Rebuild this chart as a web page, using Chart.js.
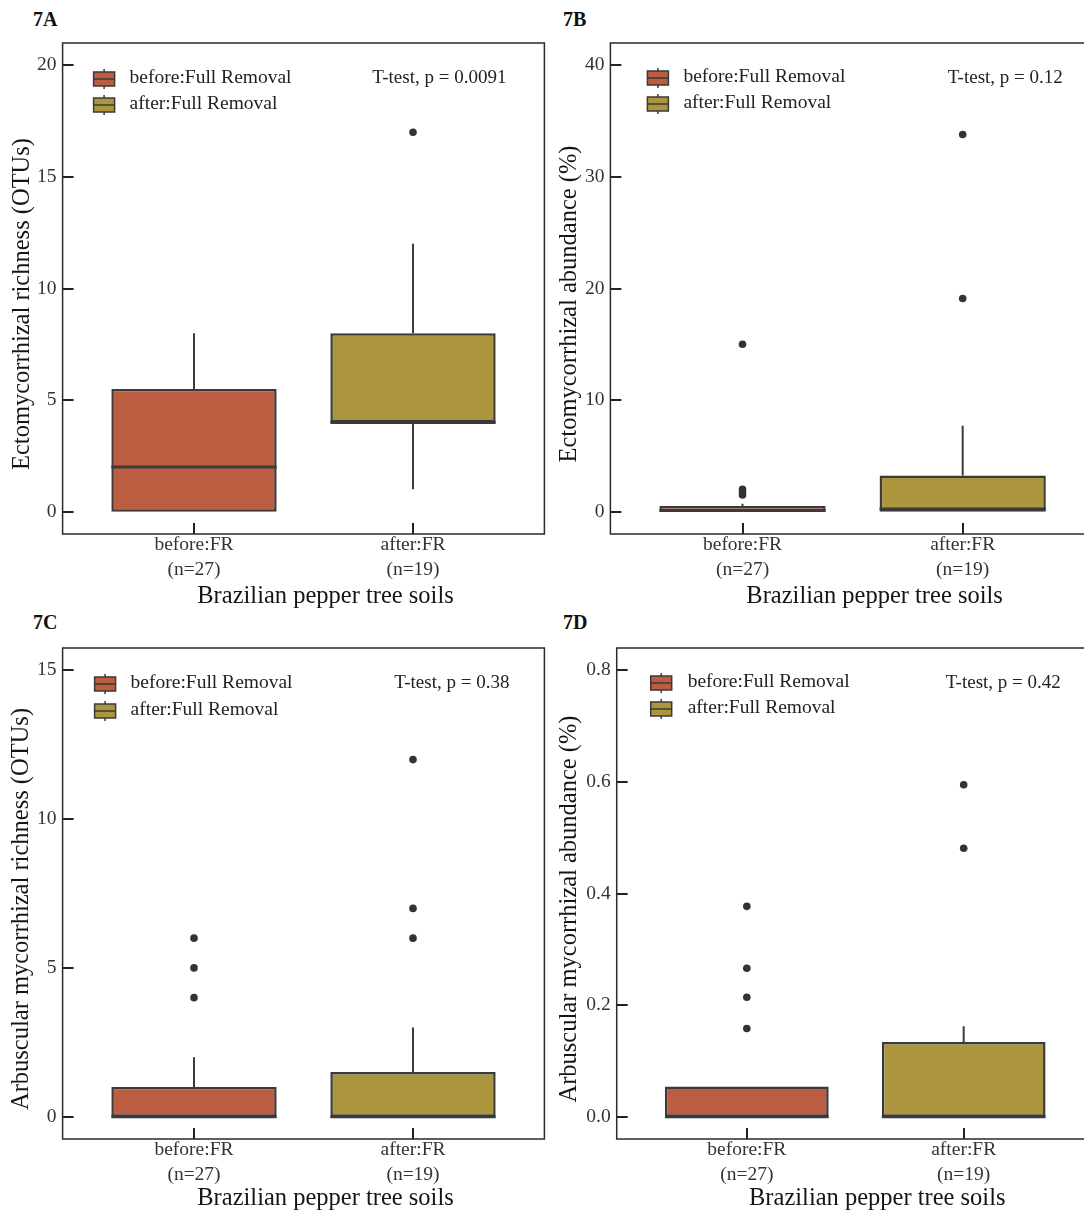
<!DOCTYPE html>
<html>
<head>
<meta charset="utf-8">
<script src="https://cdn.jsdelivr.net/npm/chart.js@4.4.1/dist/chart.umd.min.js"></script>
<style>
  html, body { margin: 0; padding: 0; background: #ffffff; overflow: hidden; width: 1084px; height: 1213px; }
  body { position: relative; }
  canvas { position: absolute; }
  .tag { position: absolute; font: bold 20px "Liberation Serif", "Times New Roman", serif; line-height: 20px; color: #111; }
</style>
</head>
<body>
<div class="tag" style="left:33px;top:9px">7A</div>
<div class="tag" style="left:563px;top:9px">7B</div>
<div class="tag" style="left:33px;top:612px">7C</div>
<div class="tag" style="left:563px;top:612px">7D</div>

<canvas id="cA" width="560" height="612" style="left:0px;top:0px"></canvas>
<canvas id="cB" width="560" height="612" style="left:545px;top:0px"></canvas>
<canvas id="cC" width="560" height="608" style="left:0px;top:605px"></canvas>
<canvas id="cD" width="560" height="608" style="left:545px;top:605px"></canvas>

<script>
// ---- groups shared by every panel ----
const groups = ['before:FR', 'after:FR'];
const groupSizes = ['(n=27)', '(n=19)'];
const legendLabels = ['before:Full Removal', 'after:Full Removal'];
const xTitle = 'Brazilian pepper tree soils';

// ---- 7A: ectomycorrhizal richness (OTUs) ----
const ectoRichLow = [0, 1];
const ectoRichQ1 = [0, 4];
const ectoRichMedian = [2, 4];
const ectoRichQ3 = [5.5, 8];
const ectoRichHigh = [8, 12];
const ectoRichOutliers = [[], [17]];
const ectoRichTicks = [0, 5, 10, 15, 20];
const ectoRichTickLabels = ['0', '5', '10', '15', '20'];

// ---- 7B: ectomycorrhizal abundance (%) ----
const ectoAbunLow = [0, 0];
const ectoAbunQ1 = [0, 0];
const ectoAbunMedian = [0.1, 0.25];
const ectoAbunQ3 = [0.5, 3.25];
const ectoAbunHigh = [0.7, 7.7];
const ectoAbunOutliers = [[1.5, 1.7, 2.0, 15.0], [19.1, 33.8]];
const ectoAbunTicks = [0, 10, 20, 30, 40];
const ectoAbunTickLabels = ['0', '10', '20', '30', '40'];

// ---- 7C: arbuscular mycorrhizal richness (OTUs) ----
const arbRichLow = [0, 0];
const arbRichQ1 = [0, 0];
const arbRichMedian = [0, 0];
const arbRichQ3 = [1, 1.5];
const arbRichHigh = [2, 3];
const arbRichOutliers = [[4, 5, 6], [6, 7, 12]];
const arbRichTicks = [0, 5, 10, 15];
const arbRichTickLabels = ['0', '5', '10', '15'];

// ---- 7D: arbuscular mycorrhizal abundance (%) ----
const arbAbunLow = [0, 0];
const arbAbunQ1 = [0, 0];
const arbAbunMedian = [0, 0];
const arbAbunQ3 = [0.054, 0.134];
const arbAbunHigh = [0.054, 0.162];
const arbAbunOutliers = [[0.158, 0.214, 0.266, 0.377], [0.481, 0.595]];
const arbAbunTicks = [0, 0.2, 0.4, 0.6, 0.8];
const arbAbunTickLabels = ['0.0', '0.2', '0.4', '0.6', '0.8'];

// ---- t-test results ----
const pValues = ['0.0091', '0.12', '0.38', '0.42'];

// ---- styling ----
const SERIF = '"Liberation Serif", "Times New Roman", Times, serif';
const FILLS = ['#bc5c41', '#ac963d'];
const EDGE = '#3a3a3a';
const BOX_WIDTH = 0.755;

// Frame, inward ticks, legend, test note and axis titles
const decor = {
  id: 'decor',
  afterDraw(chart, args, o) {
    const { ctx, chartArea: a, scales: { x, y } } = chart;
    ctx.save();

    // inward tick marks
    ctx.strokeStyle = '#222';
    ctx.lineWidth = 2;
    ctx.beginPath();
    y.ticks.forEach(t => {
      const py = Math.round(y.getPixelForValue(t.value)) + 0.0;
      ctx.moveTo(a.left, py); ctx.lineTo(a.left + 11, py);
    });
    x.ticks.forEach(t => {
      const px = Math.round(x.getPixelForValue(t.value));
      ctx.moveTo(px, a.bottom); ctx.lineTo(px, a.bottom - 11);
    });
    ctx.stroke();

    // frame
    ctx.lineWidth = 1.5;
    ctx.strokeStyle = '#2a2a2a';
    ctx.strokeRect(a.left, a.top, a.right - a.left, a.bottom - a.top);

    // legend (box-plot glyphs)
    legendLabels.forEach((label, i) => {
      const cy = a.top + o.legendRows[i];
      const gx = a.left + o.legendX;
      const bw = 21, bh = 14;
      const top = cy - bh / 2 + 1;
      ctx.lineWidth = 1.5;
      ctx.strokeStyle = EDGE;
      ctx.beginPath();
      ctx.moveTo(gx + bw / 2, top - 3); ctx.lineTo(gx + bw / 2, top);
      ctx.moveTo(gx + bw / 2, top + bh); ctx.lineTo(gx + bw / 2, top + bh + 3);
      ctx.stroke();
      ctx.fillStyle = FILLS[i];
      ctx.fillRect(gx, top, bw, bh);
      ctx.strokeRect(gx, top, bw, bh);
      ctx.beginPath();
      ctx.moveTo(gx, top + bh / 2); ctx.lineTo(gx + bw, top + bh / 2);
      ctx.stroke();

      ctx.fillStyle = '#222';
      ctx.font = '19.5px ' + SERIF;
      ctx.textAlign = 'left';
      ctx.textBaseline = 'middle';
      ctx.fillText(label, a.left + o.legendText, cy);
    });

    // t-test note
    ctx.fillStyle = '#222';
    ctx.font = '19px ' + SERIF;
    ctx.textAlign = 'right';
    ctx.textBaseline = 'middle';
    ctx.fillText('T-test, p = ' + o.p, a.right - o.noteRight, a.top + 35);

    // axis titles
    ctx.fillStyle = '#151515';
    ctx.font = '24.5px ' + SERIF;
    ctx.textAlign = 'center';
    ctx.textBaseline = 'middle';
    ctx.fillText(xTitle, (a.left + a.right) / 2 + 22, o.xTitleY);
    ctx.translate(o.yTitleX, (a.top + a.bottom) / 2 + 15.5);
    ctx.rotate(-Math.PI / 2);
    ctx.fillText(o.yTitle, 0, 0);

    ctx.restore();
  }
};

function boxPlot(canvasId, d, layout) {
  const canvas = document.getElementById(canvasId);
  const H = canvas.height, W = canvas.width;
  const half = BOX_WIDTH / 2;

  const whiskers = [];
  const medians = [];
  const outliers = [];
  groups.forEach((g, i) => {
    if (d.low[i] < d.q1[i]) whiskers.push({ x: i, y: d.low[i] }, { x: i, y: d.q1[i] }, { x: i, y: null });
    if (d.high[i] > d.q3[i]) whiskers.push({ x: i, y: d.q3[i] }, { x: i, y: d.high[i] }, { x: i, y: null });
    medians.push({ x: i - half, y: d.median[i] }, { x: i + half, y: d.median[i] }, { x: i, y: null });
    d.outliers[i].forEach(v => outliers.push({ x: i, y: v }));
  });

  return new Chart(canvas, {
    type: 'bar',
    data: {
      datasets: [
        {
          type: 'bar',
          data: groups.map((g, i) => ({ x: i, y: [d.q1[i], d.q3[i]] })),
          backgroundColor: FILLS,
          borderColor: EDGE,
          borderWidth: 2.5,
          borderSkipped: false,
          barPercentage: BOX_WIDTH,
          categoryPercentage: 1,
          order: 3
        },
        {
          type: 'line',
          data: whiskers,
          borderColor: EDGE,
          borderWidth: 2,
          pointRadius: 0,
          spanGaps: false,
          order: 4
        },
        {
          type: 'line',
          data: medians,
          borderColor: EDGE,
          borderWidth: 3,
          pointRadius: 0,
          spanGaps: false,
          order: 1
        },
        {
          type: 'line',
          data: outliers,
          showLine: false,
          pointRadius: 3.8,
          pointBackgroundColor: '#333',
          pointBorderWidth: 0,
          order: 0
        }
      ]
    },
    options: {
      responsive: false,
      animation: false,
      events: [],
      layout: { padding: { left: 0, top: 43, right: W - layout.right, bottom: 0 } },
      plugins: {
        legend: { display: false },
        tooltip: { enabled: false },
        decor: {
          legendX: layout.legendX,
          legendText: layout.legendText,
          legendRows: layout.legendRows,
          noteRight: layout.noteRight,
          p: d.p,
          yTitle: d.yTitle,
          yTitleX: layout.yTitleX,
          xTitleY: layout.xTitleY
        }
      },
      scales: {
        x: {
          type: 'linear',
          min: -0.6,
          max: 1.6,
          offset: false,
          grid: { display: false, drawTicks: false, tickLength: 0 },
          border: { display: false },
          afterBuildTicks: s => { s.ticks = groups.map((g, i) => ({ value: i })); },
          afterFit: s => { s.height = H - 534; },
          ticks: {
            autoSkip: false,
            maxRotation: 0,
            padding: -1,
            color: '#333',
            font: { family: SERIF, size: 19.5, lineHeight: 1.256 },
            callback: v => [groups[v], groupSizes[v]]
          }
        },
        y: {
          type: 'linear',
          min: d.yMin,
          max: d.yMax,
          grid: { display: false, drawTicks: false, tickLength: 0 },
          border: { display: false },
          afterBuildTicks: s => { s.ticks = d.ticks.map(v => ({ value: v })); },
          afterFit: s => { s.width = layout.left; },
          ticks: {
            padding: 6,
            color: '#333',
            font: { family: SERIF, size: 19.5 },
            callback: (v, idx) => d.tickLabels[idx]
          }
        }
      }
    },
    plugins: [decor]
  });
}

boxPlot('cA', {
  low: ectoRichLow, q1: ectoRichQ1, median: ectoRichMedian, q3: ectoRichQ3, high: ectoRichHigh,
  outliers: ectoRichOutliers, ticks: ectoRichTicks, tickLabels: ectoRichTickLabels,
  yMin: -1, yMax: 21, p: pValues[0], yTitle: 'Ectomycorrhizal richness (OTUs)'
}, { left: 62.6, right: 544.4, legendX: 31, legendText: 67, legendRows: [35, 61], noteRight: 38, yTitleX: 23, xTitleY: 597 });

boxPlot('cB', {
  low: ectoAbunLow, q1: ectoAbunQ1, median: ectoAbunMedian, q3: ectoAbunQ3, high: ectoAbunHigh,
  outliers: ectoAbunOutliers, ticks: ectoAbunTicks, tickLabels: ectoAbunTickLabels,
  yMin: -2, yMax: 42, p: pValues[1], yTitle: 'Ectomycorrhizal abundance (%)'
}, { left: 65.4, right: 549.8, legendX: 37, legendText: 73, legendRows: [34, 60], noteRight: 32, yTitleX: 25, xTitleY: 597 });

boxPlot('cC', {
  low: arbRichLow, q1: arbRichQ1, median: arbRichMedian, q3: arbRichQ3, high: arbRichHigh,
  outliers: arbRichOutliers, ticks: arbRichTicks, tickLabels: arbRichTickLabels,
  yMin: -0.75, yMax: 15.75, p: pValues[2], yTitle: 'Arbuscular mycorrhizal richness (OTUs)'
}, { left: 62.6, right: 544.4, legendX: 32, legendText: 68, legendRows: [35, 62], noteRight: 35, yTitleX: 22, xTitleY: 594 });

boxPlot('cD', {
  low: arbAbunLow, q1: arbAbunQ1, median: arbAbunMedian, q3: arbAbunQ3, high: arbAbunHigh,
  outliers: arbAbunOutliers, ticks: arbAbunTicks, tickLabels: arbAbunTickLabels,
  yMin: -0.04, yMax: 0.84, p: pValues[3], yTitle: 'Arbuscular mycorrhizal abundance (%)'
}, { left: 71.7, right: 548.8, legendX: 34, legendText: 71, legendRows: [34, 60], noteRight: 33, yTitleX: 25, xTitleY: 594 });
</script>
</body>
</html>
